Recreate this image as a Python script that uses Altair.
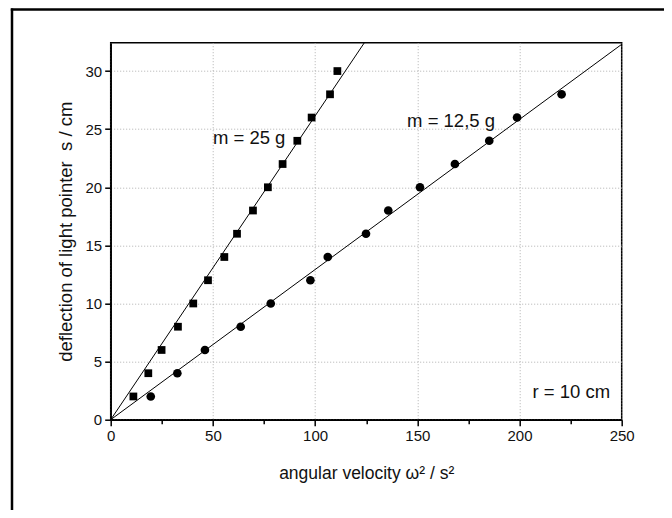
import altair as alt
import pandas as pd

# measured data
sq_x = [11.1, 18.4, 24.9, 32.9, 40.4, 47.6, 55.6, 61.8, 69.6, 76.9, 84.1, 91.3, 98.3, 107.3, 110.9]
sq_y = [2, 4, 6, 8, 10, 12, 14, 16, 18, 20, 22, 24, 26, 28, 30]
ci_x = [19.6, 32.6, 46.1, 63.6, 78.3, 97.7, 106.2, 124.9, 135.8, 151.3, 168.4, 185.2, 198.8, 220.6]
ci_y = [2, 4, 6, 8, 10, 12, 14, 16, 18, 20, 22, 24, 26, 28]

# fitted lines (end points)
fit25_x = [0, 130]
fit25_y = [0, 33.98]
fit12_x = [0, 250]
fit12_y = [0, 32.3]

# annotations
ann_text = ["m = 25 g", "m = 12,5 g", "r = 10 cm"]
ann_x = [50.0, 145.0, 244.3]
ann_y = [24.25, 25.7, 2.4]
ann_align = ["left", "left", "right"]

x_ticks = [0, 25, 50, 75, 100, 125, 150, 175, 200, 225, 250]
y_ticks = [0, 2.5, 5, 7.5, 10, 12.5, 15, 17.5, 20, 22.5, 25, 27.5, 30]

FONT = "Liberation Sans"

xscale = alt.Scale(domain=[0, 250], nice=False, zero=False)
yscale = alt.Scale(domain=[0, 32.44], nice=False, zero=False)

xaxis = alt.Axis(
    values=x_ticks,
    labelExpr="datum.value % 50 === 0 ? datum.label : ''",
    title="angular velocity ω² / s²",
    grid=True,
    gridOpacity={"condition": {"test": "datum.value % 50 !== 0", "value": 0}, "value": 1},
    tickSize={"condition": {"test": "datum.value % 50 !== 0", "value": 4}, "value": 6},
    gridDash=[1, 2], gridColor="#b0b0b0", gridWidth=1,
    domainColor="black", domainWidth=1.5, tickColor="black", tickWidth=1.5,
    labelFont=FONT, labelFontSize=15, labelColor="#111111", labelPadding=3,
    titleFont=FONT, titleFontSize=17.5, titleFontWeight="normal", titleColor="#111111",
    titlePadding=21, labelFlush=False,
)
yaxis = alt.Axis(
    values=y_ticks,
    labelExpr="datum.value % 5 === 0 ? datum.label : ''",
    title="deflection of light pointer\u00a0 s / cm",
    grid=True,
    gridOpacity={"condition": {"test": "datum.value % 5 !== 0", "value": 0}, "value": 1},
    tickSize={"condition": {"test": "datum.value % 5 !== 0", "value": 4}, "value": 6},
    gridDash=[1, 2], gridColor="#b0b0b0", gridWidth=1,
    domainColor="black", domainWidth=1.5, tickColor="black", tickWidth=1.5,
    labelFont=FONT, labelFontSize=15, labelColor="#111111", labelPadding=3,
    titleFont=FONT, titleFontSize=18.5, titleFontWeight="normal", titleColor="#111111",
    titlePadding=10, labelFlush=False,
)

sq_df = pd.DataFrame({"x": sq_x, "y": sq_y})
ci_df = pd.DataFrame({"x": ci_x, "y": ci_y})
f25_df = pd.DataFrame({"x": fit25_x, "y": fit25_y})
f12_df = pd.DataFrame({"x": fit12_x, "y": fit12_y})
ann_df = pd.DataFrame({"t": ann_text, "x": ann_x, "y": ann_y, "a": ann_align})

line25 = alt.Chart(f25_df).mark_line(color="black", strokeWidth=1, clip=True).encode(
    x=alt.X("x:Q", scale=xscale, axis=xaxis),
    y=alt.Y("y:Q", scale=yscale, axis=yaxis),
)
line12 = alt.Chart(f12_df).mark_line(color="black", strokeWidth=1, clip=True).encode(
    x=alt.X("x:Q", scale=xscale),
    y=alt.Y("y:Q", scale=yscale),
)
squares = alt.Chart(sq_df).mark_point(shape="square", filled=True, color="black", size=60, opacity=1).encode(
    x=alt.X("x:Q", scale=xscale),
    y=alt.Y("y:Q", scale=yscale),
)
circles = alt.Chart(ci_df).mark_point(shape="circle", filled=True, color="black", size=75, opacity=1).encode(
    x=alt.X("x:Q", scale=xscale),
    y=alt.Y("y:Q", scale=yscale),
)
ann_left = alt.Chart(ann_df[ann_df.a == "left"]).mark_text(
    align="left", baseline="middle", font=FONT, fontSize=18.5, color="#111111"
).encode(x=alt.X("x:Q", scale=xscale), y=alt.Y("y:Q", scale=yscale), text="t:N")
ann_right = alt.Chart(ann_df[ann_df.a == "right"]).mark_text(
    align="right", baseline="middle", font=FONT, fontSize=18.5, color="#111111"
).encode(x=alt.X("x:Q", scale=xscale), y=alt.Y("y:Q", scale=yscale), text="t:N")

frame_data = alt.Data(values=[{"k": 1}])
frame_left = alt.Chart(frame_data).mark_rule(color="black", strokeWidth=2.5, clip=False).encode(
    x=alt.value(-98.7), y=alt.value(-34.2), y2=alt.value(700)
)
frame_top = alt.Chart(frame_data).mark_rule(color="black", strokeWidth=2.5, clip=False).encode(
    x=alt.value(-99.9), x2=alt.value(800), y=alt.value(-33.2)
)

chart = alt.layer(line25, line12, squares, circles, ann_left, ann_right, frame_left, frame_top).properties(
    width=511,
    height=377,
    autosize=alt.AutoSizeParams(type="none"),
    padding={"left": 102.7, "top": 34.7, "right": 42.3, "bottom": 90.3},
    background="white",
).configure_view(stroke="black", strokeWidth=1.5)

chart.save("out.html", embed_options={"renderer": "svg", "actions": False})
